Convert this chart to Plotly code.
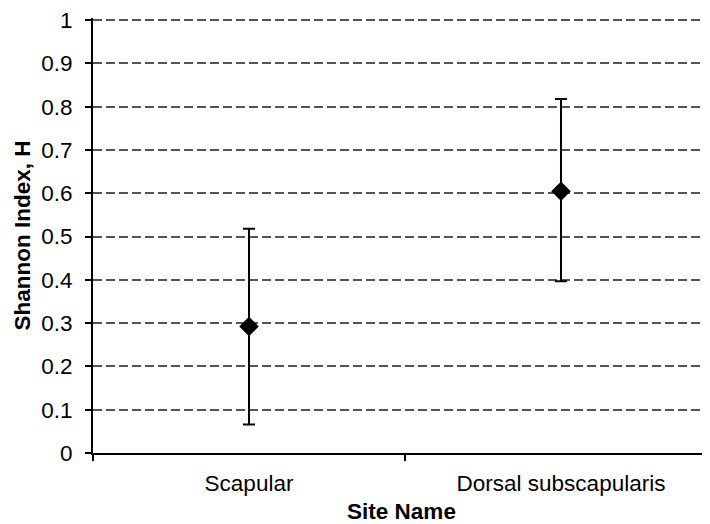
import plotly.graph_objects as go

sites = ["Scapular", "Dorsal subscapularis"]
shannon_h = [0.292, 0.605]
err_plus = [0.226, 0.213]
err_minus = [0.226, 0.208]
y_ticks = [0, 0.1, 0.2, 0.3, 0.4, 0.5, 0.6, 0.7, 0.8, 0.9, 1]
y_tick_labels = ["0", "0.1", "0.2", "0.3", "0.4", "0.5", "0.6", "0.7", "0.8", "0.9", "1"]

FONT = "Liberation Sans, Arial, sans-serif"
FS = 22.5

fig = go.Figure()
fig.add_trace(go.Scatter(
    x=sites, y=shannon_h, mode="markers",
    marker=dict(symbol="diamond", size=15, color="black"),
    error_y=dict(type="data", symmetric=False, array=err_plus, arrayminus=err_minus,
                 color="black", thickness=2, width=6),
    showlegend=False,
))

fig.update_layout(
    width=702, height=516,
    margin=dict(l=85, r=0, t=10, b=71),
    paper_bgcolor="white", plot_bgcolor="white",
    font=dict(family=FONT, size=FS, color="black"),
    xaxis=dict(
        type="category", range=[-0.5, 1.4776],
        showline=True, linecolor="black", linewidth=2,
        ticks="outside", tickson="boundaries", ticklen=6, tickcolor="black", tickwidth=2,
        ticklabelstandoff=9,
        showgrid=False, zeroline=False,
        title=dict(text="<b>Site Name</b>", font=dict(size=FS), standoff=11),
    ),
    yaxis=dict(
        range=[0, 1.005], tickvals=y_ticks, ticktext=y_tick_labels,
        showline=True, linecolor="black", linewidth=2,
        ticks="outside", ticklen=6, tickcolor="black", tickwidth=2,
        ticklabelstandoff=8, ticklabeloverflow="allow",
        showgrid=True, gridcolor="#555555", gridwidth=1.5, griddash="9px,4px",
        zeroline=False,
        title=dict(text="<b>Shannon Index, H</b>", font=dict(size=FS), standoff=4),
    ),
)

fig.write_html("out.html")
